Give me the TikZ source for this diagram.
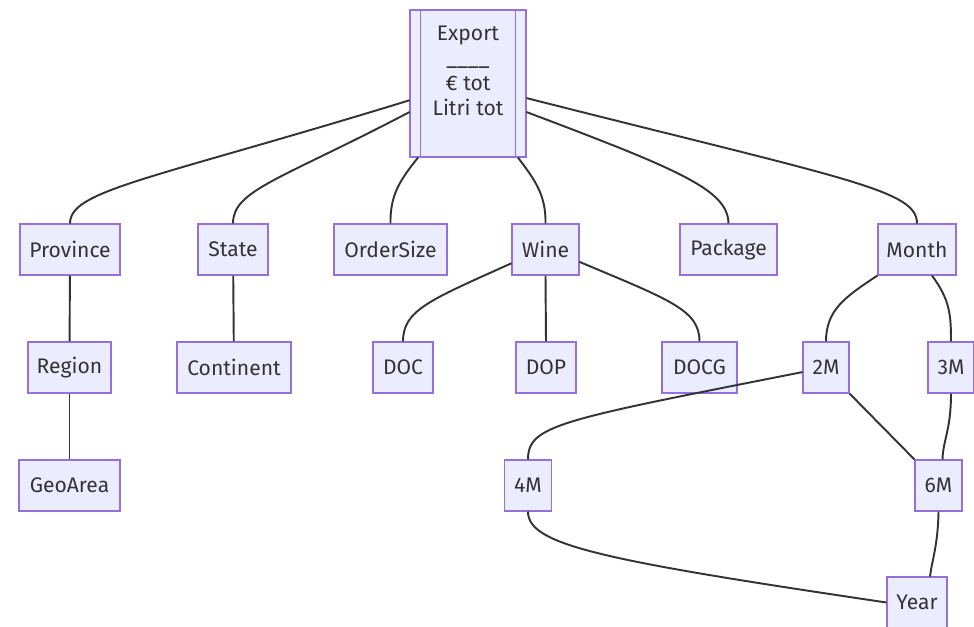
\documentclass[tikz,border=0pt]{standalone}
\usepackage{fontspec}
\setmainfont{Fira Sans}
\usetikzlibrary{arrows.meta}
\definecolor{boxfill}{HTML}{ECECFF}
\definecolor{boxline}{HTML}{9370DB}
\definecolor{inkgray}{HTML}{333333}
\tikzset{
  dimbox/.style={rectangle,draw=boxline,fill=boxfill,line width=0.6pt,
    minimum height=1.02cm,inner xsep=2pt,text=inkgray,
    font=\fontsize{12}{14.2}\selectfont},
  edge/.style={draw=inkgray,line width=1.1pt}
}
\newcommand{\dimnode}[4]{%
  \node[dimbox,minimum width=#3cm] (#1) at (#2) {#4};
}

\begin{document}
\begin{tikzpicture}[x=0.02cm,y=-0.02cm]
  \useasboundingbox (0,0) rectangle (974,626);

  % fact
  \node[dimbox,minimum width=2.32cm,minimum height=2.94cm,align=center]
    (export) at (468,83.5) {Export\\\_\_\_\_\\€ tot\\Litri tot\\\mbox{}};
  \draw[draw=boxline,line width=0.6pt]
    ([xshift=0.22cm]export.north west) -- ([xshift=0.22cm]export.south west)
    ([xshift=-0.22cm]export.north east) -- ([xshift=-0.22cm]export.south east);

  % first level
  \dimnode{province}{70,249.5}{2.0}{Province}
  \dimnode{state}{233,249.5}{1.4}{State}
  \dimnode{ordersize}{390.5,249.5}{2.26}{OrderSize}
  \dimnode{wine}{545.5,249.5}{1.34}{Wine}
  \dimnode{package}{728.5,249.5}{1.94}{Package}
  \dimnode{month}{917,249.5}{1.56}{Month}

  % second level
  \dimnode{region}{69.5,367.5}{1.66}{Region}
  \dimnode{continent}{234,367.5}{2.28}{Continent}
  \dimnode{doc}{403,367.5}{1.2}{DOC}
  \dimnode{dop}{546,367.5}{1.2}{DOP}
  \dimnode{docg}{699.5,367.5}{1.5}{DOCG}
  \dimnode{m2}{826,367.5}{0.92}{2M}
  \dimnode{m3}{951,367.5}{0.92}{3M}

  % third level
  \dimnode{geoarea}{69.5,485.5}{2.02}{GeoArea}
  \dimnode{m4}{528,485.5}{0.94}{4M}
  \dimnode{m6}{938.5,485.5}{0.94}{6M}
  \dimnode{year}{917,602.5}{1.2}{Year}

  % export to dimensions
  \draw[edge] (export.196) .. controls (150,180) and (70,190) .. (province.north);
  \draw[edge] (export.206) .. controls (280,180) and (233,190) .. (state.north);
  \draw[edge] (export.236) .. controls (400,180) and (390,195) .. (ordersize.north);
  \draw[edge] (export.304) .. controls (535,180) and (546,195) .. (wine.north);
  \draw[edge] (export.334) .. controls (680,170) and (728,190) .. (package.north);
  \draw[edge] (export.346) .. controls (850,180) and (917,190) .. (month.north);

  % hierarchies
  \draw[edge] (province) -- (region);
  \draw[edge] (region) -- (geoarea);
  \draw[edge] (state) -- (continent);
  \draw[edge] (wine.202) .. controls (430,300) and (403,310) .. (doc.north);
  \draw[edge] (wine.south) -- (dop.north);
  \draw[edge] (wine.340) .. controls (670,300) and (699.5,310) .. (docg.north);
  \draw[edge] (month.south west) .. controls (845,297) and (826,310) .. (m2.north);
  \draw[edge] ([xshift=0.3cm]month.south) .. controls (950,300) and (951,315) .. (m3.north);
  \draw[edge] (m2.191) .. controls (560,420) and (528,425) .. (m4.north);
  \draw[edge] (m2.south east) -- (m6.north west);
  \draw[edge] (m3.south) .. controls (951,430) and (943,440) .. ([xshift=0.08cm]m6.north);
  \draw[edge] (m4.south) .. controls (528,545) and (600,560) .. (year.west);
  \draw[edge] (m6.south) .. controls (938,545) and (932,560) .. ([xshift=0.26cm]year.north);
\end{tikzpicture}
\end{document}
